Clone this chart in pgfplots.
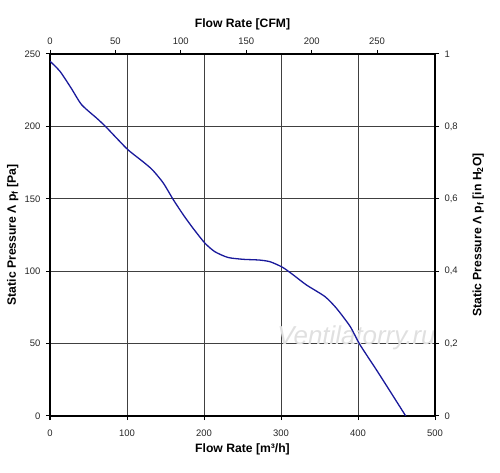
\documentclass[border=0pt]{standalone}
\usepackage{fontspec}
\setmainfont{Liberation Sans}
\usepackage{pgfplots}
\pgfplotsset{compat=1.18}
\definecolor{curve}{RGB}{25,25,155}
\begin{document}
\begin{tikzpicture}[x=1bp,y=1bp]
\useasboundingbox (-50,-57) rectangle (450,416);
\begin{axis}[
  at={(0,0)}, anchor=south west,
  scale only axis, width=385bp, height=362bp,
  xmin=0, xmax=500, ymin=0, ymax=250,
  xtick={0,100,200,300,400,500}, ytick={0,50,100,150,200,250},
  xtick pos=bottom, ytick pos=left, tick align=outside,
  major tick length=4bp,
  grid=major, major grid style={black!75, line width=0.8bp},
  axis line style={line width=1.6bp},
  tick style={black, line width=1bp},
  ticklabel style={font=\fontsize{9.5}{11}\selectfont, text=black!85},
  x tick label style={yshift=-6bp},
  y tick label style={xshift=-2bp},
  /pgf/number format/assume math mode=true,
  xlabel={Flow Rate [m³/h]},
  ylabel={Static Pressure Λ p\textsubscript{f} [Pa]},
  label style={font=\bfseries\fontsize{12.2}{14}\selectfont},
  xlabel style={at={(axis description cs:0.5,-0.091)}, anchor=center},
  ylabel style={at={(axis description cs:-0.097,0.5)}, anchor=center},
]
\node[font=\itshape\fontsize{26}{26}\selectfont, text=black!12] at (axis cs:398,54) {Ventilatorry.ru};
\addplot[curve, line width=1.3bp, smooth, tension=0.4] coordinates {
(0,245) (13,238) (28,226) (41,215) (61,205.5) (72,200) (89,190.5)
(102,183.5) (121,175.5) (133,170) (147,161) (160,149.5) (173,139)
(186,129.5) (201,119.5) (214,113.5) (231,109.5) (251,108.2) (272,107.7)
(286,106.5) (302,102.7) (316,97.4) (333,90.5) (357,82.5) (372,74.4)
(390,61.7) (402,49.7) (424,31.8) (442,16.8) (462,0)
};
\end{axis}
\begin{axis}[
  at={(0,0)}, anchor=south west,
  scale only axis, width=385bp, height=362bp,
  xmin=0, xmax=294.3, ymin=0, ymax=1,
  axis x line*=top, axis y line*=right,
  xtick={0,50,100,150,200,250}, ytick={0,0.2,0.4,0.6,0.8,1},
  tick align=outside, major tick length=4bp,
  axis line style={line width=1.6bp},
  tick style={black, line width=1bp},
  ticklabel style={font=\fontsize{9.5}{11}\selectfont, text=black!85},
  x tick label style={yshift=2bp},
  y tick label style={xshift=2bp},
  /pgf/number format/assume math mode=true,
  y tick label style={/pgf/number format/.cd, use comma, fixed, precision=1},
  xlabel={Flow Rate [CFM]},
  ylabel={Static Pressure Λ p\textsubscript{f} [in H\textsubscript{2}O]},
  label style={font=\bfseries\fontsize{12.2}{14}\selectfont},
  xlabel style={at={(axis description cs:0.5,1.082)}, anchor=center},
  ylabel style={at={(axis description cs:1.112,0.5)}, anchor=center, rotate=0},
]
\end{axis}
\end{tikzpicture}
\end{document}
